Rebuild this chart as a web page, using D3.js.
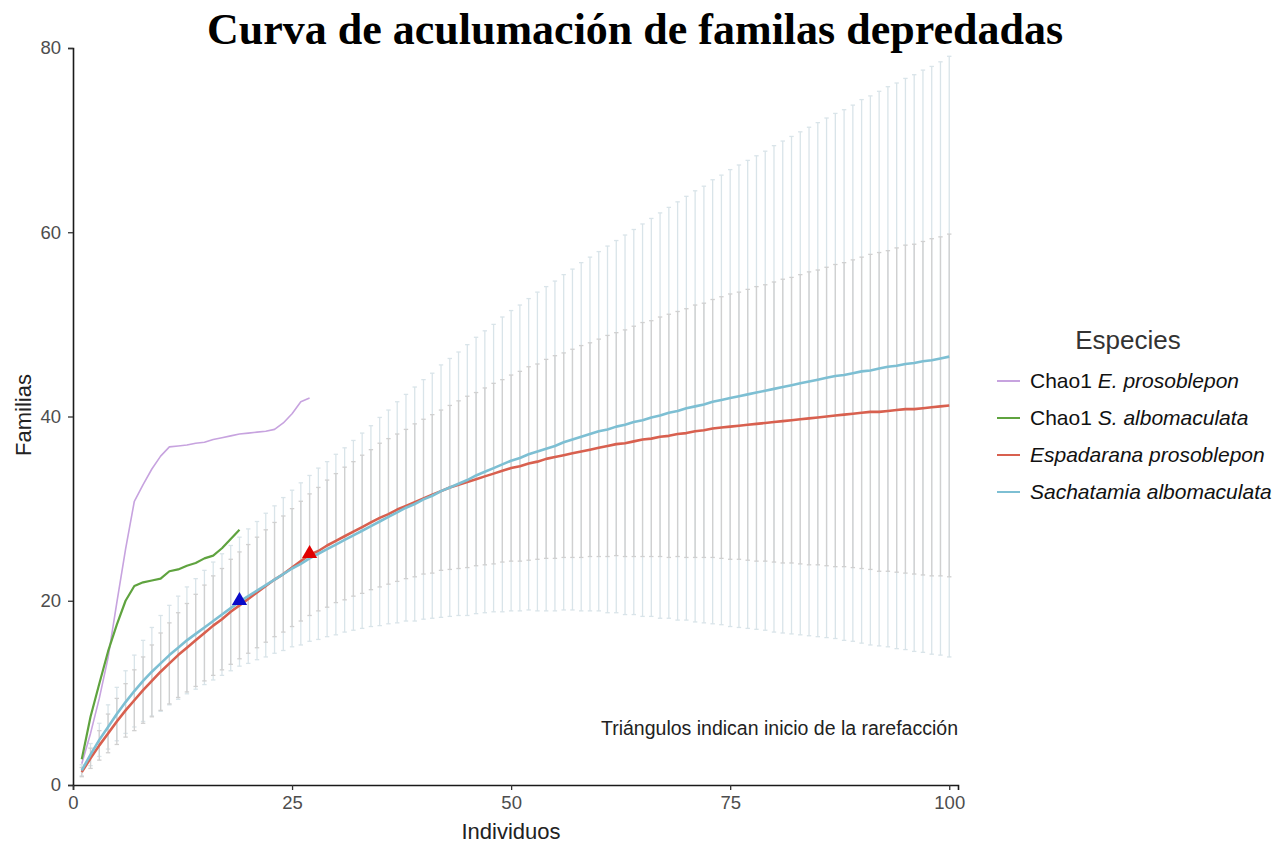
<!DOCTYPE html>
<html lang="es">
  <head>
    <meta charset="UTF-8" />
    <title>Curva de acumulación</title>
    <style>
      body { margin: 0; background: #fff; }
      text { font-family: "Liberation Sans", Arial, sans-serif; }
    </style>
  </head>
  <body>
    <svg width="1287" height="846"></svg>
    <script src="https://cdnjs.cloudflare.com/ajax/libs/d3/7.8.5/d3.min.js"></script>
    <script>
      // tamaño de muestra (individuos) 1..100
      var individuos = d3.range(1, 101);

      // Sachatamia albomaculata: media, limites del IC
      var sachMedia = [1.6, 3.3, 4.9, 6.3, 7.7, 9.0, 10.2, 11.3, 12.3, 13.2,
        14.1, 14.9, 15.7, 16.4, 17.1, 17.8, 18.5, 19.2, 19.9, 20.5,
        21.1, 21.7, 22.3, 22.9, 23.5, 24.0, 24.6, 25.1, 25.6, 26.1,
        26.6, 27.1, 27.6, 28.1, 28.6, 29.1, 29.6, 30.1, 30.5, 31.0,
        31.4, 31.9, 32.3, 32.7, 33.1, 33.6, 34.0, 34.4, 34.8, 35.2,
        35.5, 35.9, 36.2, 36.5, 36.8, 37.2, 37.5, 37.8, 38.1, 38.4,
        38.6, 38.9, 39.1, 39.4, 39.6, 39.9, 40.1, 40.4, 40.6, 40.9,
        41.1, 41.3, 41.6, 41.8, 42.0, 42.2, 42.4, 42.6, 42.8, 43.0,
        43.2, 43.4, 43.6, 43.8, 44.0, 44.2, 44.4, 44.5, 44.7, 44.9,
        45.0, 45.2, 45.4, 45.5, 45.7, 45.8, 46.0, 46.1, 46.3, 46.5];
      var sachSup = [2.2, 4.5, 6.7, 8.7, 10.6, 12.4, 14.1, 15.7, 17.1, 18.4,
        19.5, 20.5, 21.5, 22.4, 23.3, 24.2, 25.1, 26.0, 26.9, 27.8,
        28.6, 29.5, 30.3, 31.2, 32.0, 32.8, 33.6, 34.4, 35.1, 35.9,
        36.6, 37.4, 38.2, 39.0, 39.9, 40.7, 41.6, 42.4, 43.2, 44.0,
        44.7, 45.6, 46.3, 47.0, 47.8, 48.6, 49.3, 50.0, 50.8, 51.5,
        52.1, 52.8, 53.5, 54.1, 54.7, 55.4, 56.0, 56.7, 57.3, 57.9,
        58.5, 59.1, 59.7, 60.3, 60.9, 61.5, 62.1, 62.7, 63.3, 63.9,
        64.5, 65.0, 65.7, 66.2, 66.8, 67.3, 67.8, 68.3, 68.8, 69.4,
        69.9, 70.4, 70.9, 71.4, 71.9, 72.4, 72.9, 73.3, 73.8, 74.4,
        74.8, 75.3, 75.8, 76.2, 76.7, 77.1, 77.6, 78.0, 78.5, 79.1];
      var sachInf = [1.0, 2.1, 3.1, 3.9, 4.8, 5.6, 6.3, 6.9, 7.5, 8.0,
        8.7, 9.3, 9.9, 10.4, 10.9, 11.4, 11.9, 12.4, 12.9, 13.2,
        13.6, 13.9, 14.3, 14.6, 15.0, 15.2, 15.6, 15.8, 16.1, 16.3,
        16.6, 16.8, 17.0, 17.2, 17.3, 17.5, 17.6, 17.8, 17.8, 18.0,
        18.1, 18.2, 18.3, 18.4, 18.4, 18.6, 18.7, 18.8, 18.8, 18.9,
        18.9, 19.0, 18.9, 18.9, 18.9, 19.0, 19.0, 18.9, 18.9, 18.9,
        18.7, 18.7, 18.5, 18.5, 18.3, 18.3, 18.1, 18.1, 17.9, 17.9,
        17.7, 17.6, 17.5, 17.4, 17.2, 17.1, 17.0, 16.9, 16.8, 16.6,
        16.5, 16.4, 16.3, 16.2, 16.1, 16.0, 15.9, 15.7, 15.6, 15.4,
        15.2, 15.1, 15.0, 14.8, 14.7, 14.5, 14.4, 14.2, 14.1, 13.9];

      // Espadarana prosoblepon
      var espaMedia = [1.4, 2.9, 4.3, 5.6, 6.9, 8.1, 9.2, 10.3, 11.3, 12.3,
        13.2, 14.1, 14.9, 15.7, 16.5, 17.3, 18.0, 18.8, 19.5, 20.2,
        20.9, 21.6, 22.3, 22.9, 23.6, 24.3, 25.0, 25.4, 26.0, 26.5,
        27.0, 27.5, 28.0, 28.5, 29.0, 29.4, 29.9, 30.3, 30.7, 31.1,
        31.5, 31.9, 32.3, 32.6, 32.9, 33.2, 33.5, 33.8, 34.1, 34.4,
        34.6, 34.9, 35.1, 35.4, 35.6, 35.8, 36.0, 36.2, 36.4, 36.6,
        36.8, 37.0, 37.1, 37.3, 37.5, 37.6, 37.8, 37.9, 38.1, 38.2,
        38.4, 38.5, 38.7, 38.8, 38.9, 39.0, 39.1, 39.2, 39.3, 39.4,
        39.5, 39.6, 39.7, 39.8, 39.9, 40.0, 40.1, 40.2, 40.3, 40.4,
        40.5, 40.5, 40.6, 40.7, 40.8, 40.8, 40.9, 41.0, 41.1, 41.2];
      var espaSup = [1.9, 4.0, 5.9, 7.7, 9.4, 11.0, 12.5, 13.9, 15.2, 16.5,
        17.6, 18.7, 19.7, 20.7, 21.7, 22.7, 23.5, 24.5, 25.3, 26.1,
        26.9, 27.7, 28.5, 29.2, 30.0, 30.8, 31.6, 32.3, 33.1, 33.8,
        34.5, 35.1, 35.8, 36.4, 37.1, 37.6, 38.1, 38.6, 39.2, 39.7,
        40.2, 40.7, 41.2, 41.7, 42.2, 42.6, 43.1, 43.6, 44.0, 44.5,
        44.9, 45.4, 45.7, 46.2, 46.6, 46.9, 47.3, 47.7, 48.0, 48.4,
        48.8, 49.1, 49.4, 49.8, 50.2, 50.4, 50.8, 51.1, 51.4, 51.7,
        52.1, 52.3, 52.7, 53.0, 53.3, 53.5, 53.8, 54.1, 54.3, 54.6,
        54.9, 55.1, 55.4, 55.7, 55.9, 56.2, 56.5, 56.7, 57.0, 57.3,
        57.6, 57.8, 58.0, 58.3, 58.6, 58.7, 59.0, 59.3, 59.5, 59.8];
      var espaInf = [0.9, 1.8, 2.7, 3.5, 4.4, 5.2, 5.9, 6.7, 7.4, 8.1,
        8.8, 9.5, 10.1, 10.7, 11.3, 11.9, 12.5, 13.1, 13.7, 14.3,
        14.9, 15.5, 16.1, 16.6, 17.2, 17.8, 18.4, 18.9, 19.3, 19.8,
        20.1, 20.5, 20.8, 21.2, 21.5, 21.8, 22.1, 22.4, 22.6, 22.9,
        23.0, 23.3, 23.4, 23.5, 23.6, 23.8, 23.9, 24.0, 24.2, 24.3,
        24.3, 24.4, 24.5, 24.6, 24.6, 24.7, 24.7, 24.7, 24.8, 24.8,
        24.8, 24.9, 24.8, 24.8, 24.8, 24.8, 24.8, 24.7, 24.8, 24.7,
        24.7, 24.7, 24.7, 24.6, 24.5, 24.5, 24.4, 24.3, 24.3, 24.2,
        24.1, 24.1, 24.0, 23.9, 23.9, 23.8, 23.7, 23.7, 23.6, 23.5,
        23.4, 23.2, 23.2, 23.1, 23.0, 22.9, 22.8, 22.7, 22.7, 22.6];

      // Chao1 observados
      var chaoEpros = [2.3, 5.6, 9.4, 13.8, 19.8, 25.6, 30.8, 32.6, 34.3, 35.7,
        36.7, 36.8, 36.9, 37.1, 37.2, 37.5, 37.7, 37.9, 38.1, 38.2,
        38.3, 38.4, 38.6, 39.3, 40.3, 41.6, 42.0];
      var chaoSalbo = [2.8, 7.4, 11.0, 14.5, 17.4, 20.0, 21.6, 22.0, 22.2, 22.4,
        23.2, 23.4, 23.8, 24.1, 24.6, 24.9, 25.7, 26.7, 27.7];

      // inicio de la rarefaccion
      var triangulos = [
        { n: 19, v: 19.9, color: "#0a0ac8" },
        { n: 27, v: 25.0, color: "#e00000" },
      ];

      var especies = ["Chao1 E. prosoblepon", "Chao1 S. albomaculata",
        "Espadarana prosoblepon", "Sachatamia albomaculata"];
      var colores = ["#c7a3df", "#5fa33f", "#d8604f", "#7dbfd3"];

      var svg = d3.select("svg");

      var x = d3.scaleLinear().domain([0, 101]).range([73, 958]);
      var y = d3.scaleLinear().domain([0, 80]).range([785, 48]);

      function errorBars(media, sup, inf, color) {
        var g = svg.append("g").attr("stroke", color).attr("stroke-width", 1.3);
        var rows = individuos.map(function (n, i) {
          return { n: n, hi: sup[i], lo: inf[i] };
        });
        g.selectAll("line.v").data(rows).enter().append("line")
          .attr("x1", function (d) { return x(d.n); })
          .attr("x2", function (d) { return x(d.n); })
          .attr("y1", function (d) { return y(d.hi); })
          .attr("y2", function (d) { return y(d.lo); });
        ["hi", "lo"].forEach(function (k) {
          g.selectAll("line." + k).data(rows).enter().append("line")
            .attr("x1", function (d) { return x(d.n) - 2.2; })
            .attr("x2", function (d) { return x(d.n) + 2.2; })
            .attr("y1", function (d) { return y(d[k]); })
            .attr("y2", function (d) { return y(d[k]); });
        });
      }

      errorBars(sachMedia, sachSup, sachInf, "#d9e4e9");
      errorBars(espaMedia, espaSup, espaInf, "#d0d0d0");

      var line = d3.line()
        .x(function (d, i) { return x(i + 1); })
        .y(function (d) { return y(d); });

      var series = [
        { v: chaoEpros, c: colores[0], w: 1.6 },
        { v: chaoSalbo, c: colores[1], w: 2.2 },
        { v: espaMedia, c: colores[2], w: 2.6 },
        { v: sachMedia, c: colores[3], w: 2.6 },
      ];
      series.forEach(function (s) {
        svg.append("path").datum(s.v)
          .attr("fill", "none")
          .attr("stroke", s.c)
          .attr("stroke-width", s.w)
          .attr("stroke-linejoin", "round")
          .attr("d", line);
      });

      svg.selectAll("path.tri").data(triangulos).enter().append("path")
        .attr("d", d3.symbol(d3.symbolTriangle).size(100))
        .attr("fill", function (d) { return d.color; })
        .attr("transform", function (d) {
          return "translate(" + x(d.n) + "," + (y(d.v) - 1) + ")";
        });

      // ejes
      var yAxis = svg.append("g").attr("transform", "translate(73,0)")
        .call(d3.axisLeft(y).tickValues([0, 20, 40, 60, 80]).tickSizeOuter(0).tickSize(5).tickPadding(7));
      var xAxis = svg.append("g").attr("transform", "translate(0,785)")
        .call(d3.axisBottom(x).tickValues([0, 25, 50, 75, 100]).tickSizeOuter(0).tickSize(5).tickPadding(6));
      [xAxis, yAxis].forEach(function (a) {
        a.select(".domain").attr("stroke", "#1a1a1a").attr("stroke-width", 1.6);
        a.selectAll(".tick line").attr("stroke", "#333").attr("stroke-width", 1.3);
        a.selectAll(".tick text").attr("fill", "#4d4d4d")
          .style("font-size", "18.5px").style("font-family", "'Liberation Sans', Arial, sans-serif");
      });

      svg.append("text").attr("x", 511).attr("y", 839).attr("text-anchor", "middle")
        .attr("fill", "#222").style("font-size", "22px").text("Individuos");
      svg.append("text").attr("transform", "translate(31,415) rotate(-90)")
        .attr("text-anchor", "middle").attr("fill", "#222").style("font-size", "22px")
        .text("Familias");

      svg.append("text").attr("x", 635).attr("y", 44).attr("text-anchor", "middle")
        .style("font-family", "'Liberation Serif', 'Times New Roman', serif")
        .style("font-weight", "bold").style("font-size", "44px").attr("fill", "#000")
        .text("Curva de aculumación de familas depredadas");

      svg.append("text").attr("x", 958).attr("y", 735).attr("text-anchor", "end")
        .attr("fill", "#222").style("font-size", "19.5px")
        .text("Triángulos indican inicio de la rarefacción");

      // leyenda
      var leg = svg.append("g");
      leg.append("text").attr("x", 1128).attr("y", 349).attr("text-anchor", "middle")
        .attr("fill", "#333").style("font-size", "26px").text("Especies");
      var partes = [
        [["Chao1 ", false], ["E. prosoblepon", true]],
        [["Chao1 ", false], ["S. albomaculata", true]],
        [["Espadarana prosoblepon", true]],
        [["Sachatamia albomaculata", true]],
      ];
      especies.forEach(function (e, i) {
        var yy = 381 + i * 37;
        leg.append("line").attr("x1", 997).attr("x2", 1020).attr("y1", yy).attr("y2", yy)
          .attr("stroke", colores[i]).attr("stroke-width", 2);
        var t = leg.append("text").attr("x", 1030).attr("y", yy + 7)
          .attr("fill", "#111").style("font-size", "21px");
        partes[i].forEach(function (p) {
          t.append("tspan").style("font-style", p[1] ? "italic" : "normal").text(p[0]);
        });
      });
    </script>
  </body>
</html>
